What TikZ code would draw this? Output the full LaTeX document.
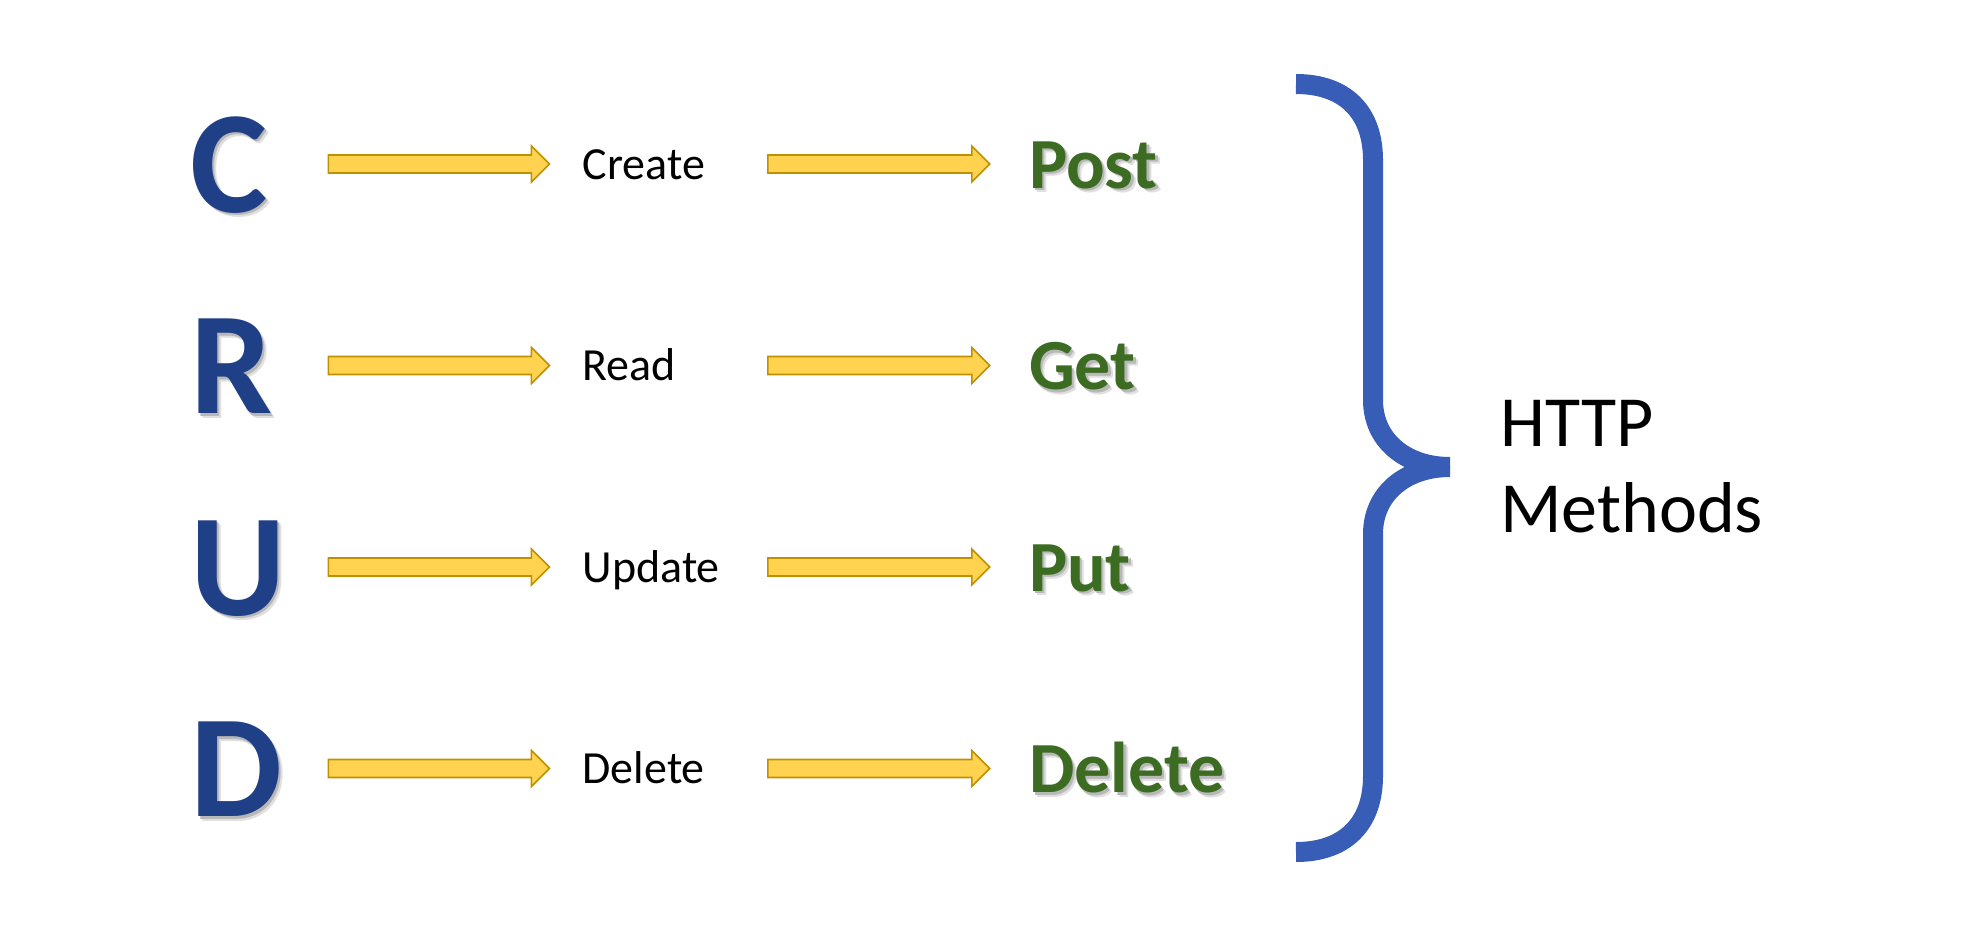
\documentclass[tikz,border=0pt]{standalone}
\usepackage{fontspec}
\setmainfont{Carlito}
\usetikzlibrary{calc,positioning}
\definecolor{CrudBlue}{HTML}{1F3F86}
\definecolor{MethodGreen}{HTML}{3C6B22}
\definecolor{ArrowFill}{HTML}{FFD350}
\definecolor{ArrowEdge}{HTML}{BF9000}
\definecolor{BraceBlue}{HTML}{375DB6}
\newcommand{\dropshadow}[1]{%
  \rlap{\hspace{4.5pt}\raisebox{-4.5pt}{\textcolor{black!12}{#1}}}%
  \rlap{\hspace{2.5pt}\raisebox{-2.5pt}{\textcolor{black!28}{#1}}}#1}

\begin{document}
\begin{tikzpicture}[
  x=1pt,y=-1pt,
  letter/.style={
    anchor=west,
    inner sep=0pt,
    text width=95pt,
    align=left,
    text height=96pt,
    text depth=0pt,
    font=\bfseries\fontsize{146}{146}\selectfont,
    text=CrudBlue
  },
  action/.style={
    inner sep=0pt,
    text width=130pt,
    align=left,
    text height=30pt,
    text depth=0pt,
    font=\fontsize{46}{46}\selectfont
  },
  method/.style={
    inner sep=0pt,
    text width=220pt,
    align=left,
    text height=48pt,
    text depth=0pt,
    font=\bfseries\fontsize{72}{72}\selectfont,
    text=MethodGreen
  },
  blockarrow/.style={
    fill=ArrowFill,
    draw=ArrowEdge,
    line width=1.6pt,
    to path={let \p1=(\tikztostart), \p2=(\tikztotarget) in
      (\x1,\y1-9pt) -- (\x2-18pt,\y1-9pt) -- (\x2-18pt,\y1-18pt) -- (\x2,\y1)
      -- (\x2-18pt,\y1+18pt) -- (\x2-18pt,\y1+9pt) -- (\x1,\y1+9pt) -- cycle}
  },
  brace/.style={draw=BraceBlue,line width=20pt}
]
  \useasboundingbox (0,0) rectangle (1966,940);

  % CRUD letters
  \node[letter] (letterC) at (190,164) {\dropshadow{C}};
  \node[letter] (letterR) at (190,365.5) {\dropshadow{R}};
  \node[letter] (letterU) at (190,567) {\dropshadow{U}};
  \node[letter] (letterD) at (190,768.5) {\dropshadow{D}};

  \node[action,right=297pt of letterC] (create) {Create};
  \node[action,right=297pt of letterR] (read) {Read};
  \node[action,right=297pt of letterU] (update) {Update};
  \node[action,right=297pt of letterD] (delete) {Delete};

  \node[method,right=316pt of create] (post) {\dropshadow{Post}};
  \node[method,right=316pt of read] (get) {\dropshadow{Get}};
  \node[method,right=316pt of update] (put) {\dropshadow{Put}};
  \node[method,right=316pt of delete] (del) {\dropshadow{Delete}};

  \draw[blockarrow] ([xshift=43pt]letterC.east) to ([xshift=-33pt]create.west);
  \draw[blockarrow] ([xshift=43pt]letterR.east) to ([xshift=-33pt]read.west);
  \draw[blockarrow] ([xshift=43pt]letterU.east) to ([xshift=-33pt]update.west);
  \draw[blockarrow] ([xshift=43pt]letterD.east) to ([xshift=-33pt]delete.west);

  \draw[blockarrow] ([xshift=55pt]create.east) to ([xshift=-39pt]post.west);
  \draw[blockarrow] ([xshift=55pt]read.east) to ([xshift=-39pt]get.west);
  \draw[blockarrow] ([xshift=55pt]update.east) to ([xshift=-39pt]put.west);
  \draw[blockarrow] ([xshift=55pt]delete.east) to ([xshift=-39pt]del.west);

  % brace
  \draw[brace] (1296,84) .. controls (1345,84) and (1373,112) .. (1373,160)
    -- (1373,400) .. controls (1373,440) and (1405,467) .. (1450,467) coordinate (tip);
  \draw[brace] (tip) .. controls (1405,467) and (1373,494) .. (1373,534)
    -- (1373,776) .. controls (1373,824) and (1345,852) .. (1296,852);

  \node[right=50pt of tip,inner sep=0pt,align=left,
    font=\fontsize{72}{86}\selectfont] (http) {HTTP\\Methods};
\end{tikzpicture}
\end{document}
